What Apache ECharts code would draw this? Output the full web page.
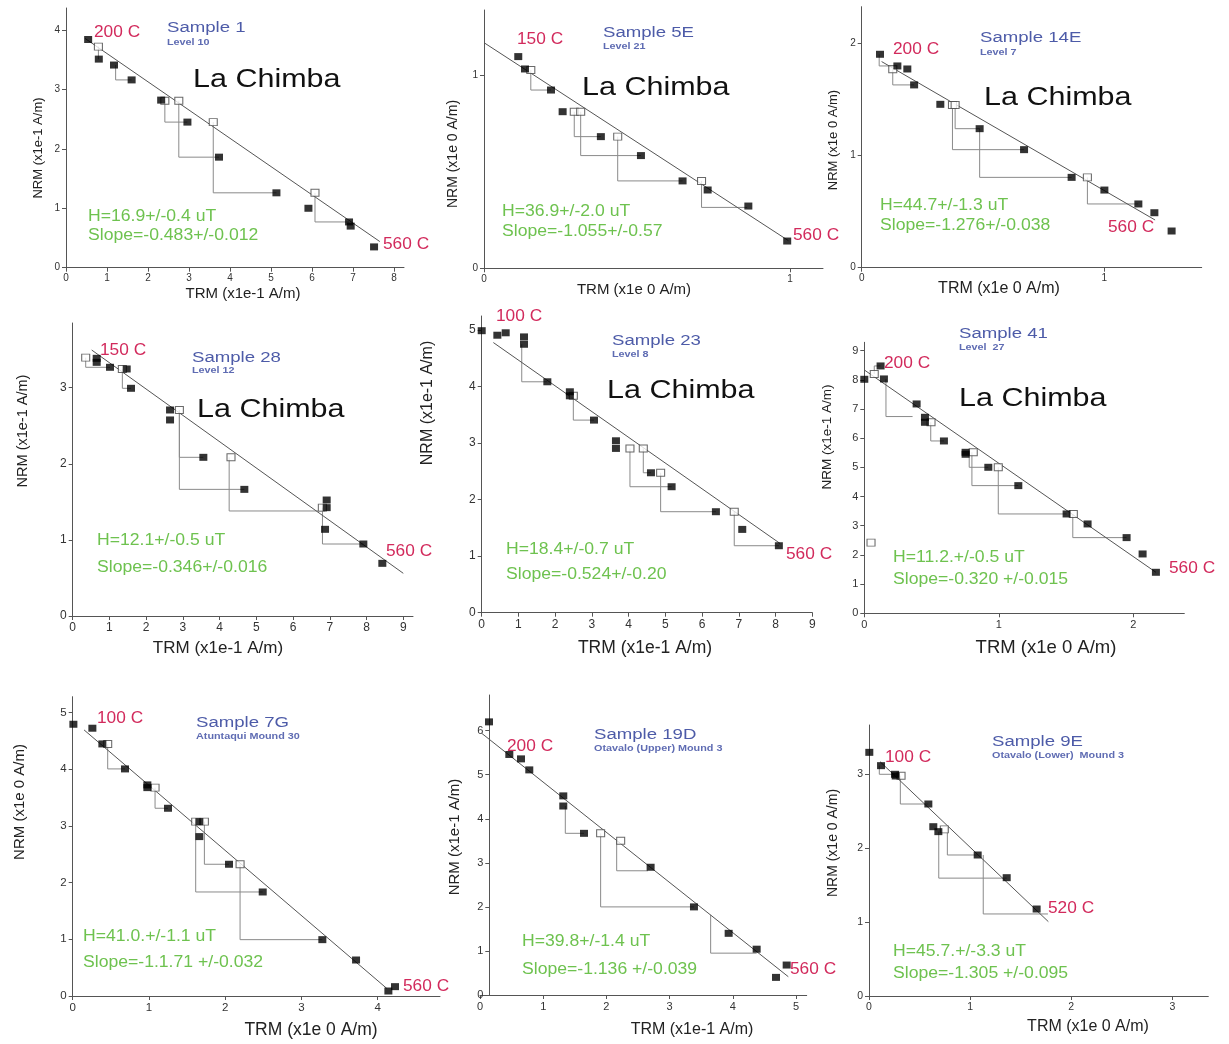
<!DOCTYPE html>
<html><head><meta charset="utf-8">
<script src="https://cdn.jsdelivr.net/npm/echarts@6/dist/echarts.min.js"></script>
<style>html,body{margin:0;padding:0;background:#fff}#c{width:1229px;height:1044px}</style>
</head><body><div id="c"></div>
<script>
// ---------- DATA ----------
// Sample 1
const s1_trm = [0.54,0.80,1.17,1.60,2.32,2.96,3.73,5.13,5.91,6.90,6.94,7.51];
const s1_nrm = [3.84,3.51,3.41,3.16,2.82,2.45,1.86,1.26,1.00,0.77,0.70,0.35];
const s1_chkTrm = [0.79,2.41,2.75,3.59,6.07];
const s1_chkNrm = [3.72,2.81,2.81,2.45,1.26];
const s1_steps = [[0.79,3.72,3.51,0.80],[1.21,3.41,3.16,1.60],[2.41,2.81,2.45,2.96],[2.75,2.81,1.86,3.73],[3.59,2.45,1.26,5.13],[6.07,1.26,0.77,6.90]];
const s1_fitTrm = [0.46,7.65], s1_fitNrm = [3.86,0.44];
const s1_text = ['200 C','560 C','Sample 1','Level 10','La Chimba','H=16.9+/-0.4 uT','Slope=-0.483+/-0.012'];
const s1_axes = ['TRM (x1e-1 A/m)','NRM (x1e-1 A/m)'];
const s1_xTicks = [0,1,2,3,4,5,6,7,8], s1_yTicks = [0,1,2,3,4], s1_range = [8.24,4.37];
// Sample 5E
const s2_trm = [0.112,0.134,0.219,0.257,0.382,0.513,0.649,0.731,0.864,0.991];
const s2_nrm = [1.095,1.031,0.922,0.810,0.681,0.583,0.452,0.405,0.322,0.141];
const s2_chkTrm = [0.153,0.295,0.316,0.437,0.711];
const s2_chkNrm = [1.026,0.810,0.810,0.681,0.452];
const s2_steps = [[0.153,1.026,0.922,0.219],[0.295,0.810,0.681,0.382],[0.316,0.810,0.583,0.513],[0.437,0.681,0.452,0.649],[0.711,0.452,0.315,0.86]];
const s2_fitTrm = [0,0.995], s2_fitNrm = [1.167,0.143];
const s2_text = ['150 C','560 C','Sample 5E','Level 21','La Chimba','H=36.9+/-2.0 uT','Slope=-1.055+/-0.57'];
const s2_axes = ['TRM (x1e 0 A/m)','NRM (x1e 0 A/m)'];
const s2_xTicks = [0,1], s2_yTicks = [0,1], s2_range = [1.108,1.336];
// Sample 14E
const s3_trm = [0.0755,0.147,0.188,0.216,0.324,0.486,0.669,0.865,1.0,1.14,1.206,1.277];
const s3_nrm = [1.902,1.798,1.771,1.629,1.456,1.239,1.052,0.805,0.692,0.568,0.490,0.327];
const s3_chkTrm = [0.128,0.374,0.385,0.930];
const s3_chkNrm = [1.768,1.450,1.450,0.805];
const s3_steps = [[0.072,1.902,1.798,0.147],[0.128,1.768,1.629,0.216],[0.374,1.45,1.052,0.669],[0.385,1.45,1.239,0.486],[0.486,1.239,0.805,0.865],[0.930,0.805,0.568,1.14]];
const s3_fitTrm = [0.082,1.209], s3_fitNrm = [1.837,0.425];
const s3_text = ['200 C','560 C','Sample 14E','Level 7','La Chimba','H=44.7+/-1.3 uT','Slope=-1.276+/-0.038'];
const s3_axes = ['TRM (x1e 0 A/m)','NRM (x1e 0 A/m)'];
const s3_xTicks = [0,1], s3_yTicks = [0,1,2], s3_range = [1.401,2.326];
// Sample 28
const s4_trm = [0.653,0.653,1.016,1.47,1.588,2.65,2.65,3.557,4.673,6.915,6.915,6.87,7.913,8.43];
const s4_nrm = [3.386,3.333,3.268,3.246,2.992,2.707,2.576,2.085,1.664,1.524,1.424,1.139,0.946,0.692];
const s4_chkTrm = [0.354,1.352,2.904,4.31,6.797];
const s4_chkNrm = [3.395,3.246,2.707,2.085,1.424];
const s4_steps = [[0.354,3.395,3.268,1.016],[1.352,3.246,2.992,1.588],[2.904,2.707,2.085,3.557],[2.904,2.707,1.664,4.673],[4.26,2.085,1.38,6.87],[6.80,1.424,0.946,7.913]];
const s4_fitTrm = [0.517,9.0], s4_fitNrm = [3.495,0.561];
const s4_text = ['150 C','560 C','Sample 28','Level 12','La Chimba','H=12.1+/-0.5 uT','Slope=-0.346+/-0.016'];
const s4_axes = ['TRM (x1e-1 A/m)','NRM (x1e-1 A/m)'];
const s4_xTicks = [0,1,2,3,4,5,6,7,8,9], s4_yTicks = [0,1,2,3], s4_range = [9.265,3.85];
// Sample 23
const s5_trm = [0,0.426,0.653,1.152,1.152,1.787,2.40,2.40,3.057,3.655,3.655,4.608,5.17,6.376,7.093,8.09];
const s5_nrm = [4.99,4.91,4.953,4.88,4.75,4.086,3.909,3.838,3.408,3.042,2.907,2.476,2.229,1.787,1.474,1.185];
const s5_chkTrm = [2.494,4.036,4.399,4.871,6.875];
const s5_chkNrm = [3.838,2.907,2.907,2.476,1.787];
const s5_steps = [[1.09,4.75,4.086,1.787],[2.494,3.838,3.408,3.057],[4.036,2.907,2.229,5.17],[4.399,2.907,2.476,4.608],[4.871,2.476,1.787,6.376],[6.875,1.787,1.185,8.09]];
const s5_fitTrm = [0.317,8.12], s5_fitNrm = [4.78,1.226];
const s5_text = ['100 C','560 C','Sample 23','Level 8','La Chimba','H=18.4+/-0.7 uT','Slope=-0.524+/-0.20'];
const s5_axes = ['TRM (x1e-1 A/m)','NRM (x1e-1 A/m)'];
const s5_xTicks = [0,1,2,3,4,5,6,7,8,9], s5_yTicks = [0,1,2,3,4,5], s5_range = [9.0,5.25];
// Sample 41
const s6_trm = [0,0.121,0.146,0.389,0.451,0.451,0.592,0.753,0.753,0.922,1.145,1.504,1.660,1.950,2.069,2.168];
const s6_nrm = [8.017,8.474,8.029,7.172,6.715,6.544,5.904,5.516,5.448,5.002,4.374,3.403,3.061,2.593,2.033,1.405];
const s6_chkTrm = [0.074,0.496,0.81,0.996,1.554,0.05];
const s6_chkNrm = [8.2,6.544,5.516,5.002,3.403,2.421];
const s6_steps = [[0.074,8.2,8.474,0.121],[0.161,8.03,6.74,0.359],[0.494,6.544,5.904,0.592],[0.78,5.516,5.002,0.922],[0.80,5.516,4.374,1.145],[0.996,5.002,3.403,1.504],[1.55,3.403,2.593,1.95]];
const s6_fitTrm = [0,2.168], s6_fitNrm = [8.337,1.405];
const s6_text = ['200 C','560 C','Sample 41','Level  27','La Chimba','H=11.2.+/-0.5 uT','Slope=-0.320 +/-0.015'];
const s6_axes = ['TRM (x1e 0 A/m)','NRM (x1e-1 A/m)'];
const s6_xTicks = [0,1,2], s6_yTicks = [0,1,2,3,4,5,6,7,8,9], s6_range = [2.379,9.284];
// Sample 7G
const s7_trm = [0.009,0.258,0.389,0.686,0.979,0.979,1.25,1.661,1.661,2.05,2.492,3.274,3.716,4.14,4.227];
const s7_nrm = [4.794,4.724,4.447,4.006,3.724,3.676,3.312,3.076,2.812,2.324,1.835,0.994,0.635,0.088,0.165];
const s7_chkTrm = [0.459,1.08,1.613,1.727,2.195];
const s7_chkNrm = [4.447,3.676,3.076,3.076,2.324];
const s7_steps = [[0.459,4.447,4.006,0.686],[1.08,3.676,3.312,1.25],[1.613,3.076,1.835,2.492],[1.727,3.076,2.324,2.05],[2.195,2.324,0.994,3.274]];
const s7_fitTrm = [0.149,4.118], s7_fitNrm = [4.694,0.135];
const s7_text = ['100 C','560 C','Sample 7G','Atuntaqui Mound 30','','H=41.0.+/-1.1 uT','Slope=-1.1.71 +/-0.032'];
const s7_axes = ['TRM (x1e 0 A/m)','NRM (x1e 0 A/m)'];
const s7_xTicks = [0,1,2,3,4], s7_yTicks = [0,1,2,3,4,5], s7_range = [4.817,5.28];
// Sample 19D
const s8_trm = [0.142,0.464,0.649,0.78,1.318,1.318,1.646,2.70,3.386,3.935,4.378,4.684,4.853];
const s8_nrm = [6.20,5.46,5.36,5.11,4.52,4.29,3.67,2.90,2.00,1.40,1.04,0.40,0.68];
const s8_chkTrm = [1.909,2.226];
const s8_chkNrm = [3.67,3.50];
const s8_steps = [[1.35,4.29,3.67,1.646],[1.909,3.67,2.00,3.386],[2.163,3.50,2.82,2.66],[3.65,1.82,0.95,4.378]];
const s8_fitTrm = [0.027,4.879], s8_fitNrm = [5.94,0.415];
const s8_text = ['200 C','560 C','Sample 19D','Otavalo (Upper) Mound 3','','H=39.8+/-1.4 uT','Slope=-1.136 +/-0.039'];
const s8_axes = ['TRM (x1e-1 A/m)','NRM (x1e-1 A/m)'];
const s8_xTicks = [0,1,2,3,4,5], s8_yTicks = [0,1,2,3,4,5,6], s8_range = [5.17,6.81];
// Sample 9E
const s9_trm = [0.003,0.119,0.257,0.264,0.587,0.636,0.686,1.075,1.362,1.658];
const s9_nrm = [3.297,3.117,3.0,2.977,2.598,2.291,2.224,1.908,1.601,1.177];
const s9_chkTrm = [0.317,0.745];
const s9_chkNrm = [2.981,2.255];
const s9_steps = [[0.102,3.117,3.0,0.257],[0.310,2.981,2.598,0.587],[0.69,2.224,1.595,1.362],[0.775,2.29,1.908,1.075],[1.13,1.908,1.11,1.77]];
const s9_fitTrm = [0.109,1.774], s9_fitNrm = [3.171,1.006];
const s9_text = ['100 C','520 C','Sample 9E','Otavalo (Lower)  Mound 3','','H=45.7.+/-3.3 uT','Slope=-1.305 +/-0.095'];
const s9_axes = ['TRM (x1e 0 A/m)','NRM (x1e 0 A/m)'];
const s9_xTicks = [0,1,2,3], s9_yTicks = [0,1,2,3], s9_range = [3.356,3.667];

const panels = [
  [s1_trm,s1_nrm,s1_chkTrm,s1_chkNrm,s1_steps,s1_fitTrm,s1_fitNrm,s1_text,s1_axes,s1_xTicks,s1_yTicks,s1_range],
  [s2_trm,s2_nrm,s2_chkTrm,s2_chkNrm,s2_steps,s2_fitTrm,s2_fitNrm,s2_text,s2_axes,s2_xTicks,s2_yTicks,s2_range],
  [s3_trm,s3_nrm,s3_chkTrm,s3_chkNrm,s3_steps,s3_fitTrm,s3_fitNrm,s3_text,s3_axes,s3_xTicks,s3_yTicks,s3_range],
  [s4_trm,s4_nrm,s4_chkTrm,s4_chkNrm,s4_steps,s4_fitTrm,s4_fitNrm,s4_text,s4_axes,s4_xTicks,s4_yTicks,s4_range],
  [s5_trm,s5_nrm,s5_chkTrm,s5_chkNrm,s5_steps,s5_fitTrm,s5_fitNrm,s5_text,s5_axes,s5_xTicks,s5_yTicks,s5_range],
  [s6_trm,s6_nrm,s6_chkTrm,s6_chkNrm,s6_steps,s6_fitTrm,s6_fitNrm,s6_text,s6_axes,s6_xTicks,s6_yTicks,s6_range],
  [s7_trm,s7_nrm,s7_chkTrm,s7_chkNrm,s7_steps,s7_fitTrm,s7_fitNrm,s7_text,s7_axes,s7_xTicks,s7_yTicks,s7_range],
  [s8_trm,s8_nrm,s8_chkTrm,s8_chkNrm,s8_steps,s8_fitTrm,s8_fitNrm,s8_text,s8_axes,s8_xTicks,s8_yTicks,s8_range],
  [s9_trm,s9_nrm,s9_chkTrm,s9_chkNrm,s9_steps,s9_fitTrm,s9_fitNrm,s9_text,s9_axes,s9_xTicks,s9_yTicks,s9_range]
];

// ---------- LAYOUT (pixel positions & sizes) ----------
const layout = [
 {l:66, t:8, r:404, b:267.7, yOff:0, tf:10, tt:[15,13], tp:[243,294], np:[38,148], pos:[[94,33],[383,245],[167,28],[167,43],[193,80],[88,217],[88,236]]},
 {l:484, t:10, r:823, b:268.3, yOff:0, tf:10, tt:[15,14], tp:[634,290], np:[453,154], pos:[[517,40],[793,236],[603,33],[603,47],[582,88],[502,212],[502,232]]},
 {l:861.7, t:6.7, r:1201.7, b:267.7, yOff:0, tf:10, tt:[16,13], tp:[999,289], np:[833,140], pos:[[893,50],[1108,228],[980,38],[980,53],[984,98],[880,206],[880,226]]},
 {l:72.7, t:323, r:413, b:616, yOff:0, tf:12, tt:[17,14.5], tp:[218,648], np:[23,431], pos:[[100,351],[386,552],[192,358],[192,371],[197,410],[97,541],[97,568]]},
 {l:481.7, t:316, r:812.3, b:612.7, yOff:0, tf:12, tt:[17.5,16], tp:[645,648], np:[428,403], pos:[[496,317],[786,555],[612,341],[612,355],[607,391],[506,550],[506,575]]},
 {l:864.3, t:342.3, r:1184.3, b:613.3, yOff:0, tf:11, tt:[18.5,13.5], tp:[1046,648], np:[827,437], pos:[[884,364],[1169,569],[959,334],[959,348],[959,399],[893,558],[893,580]]},
 {l:72.7, t:696.7, r:440, b:996, yOff:0, tf:11.5, tt:[17.5,15], tp:[311,1030], np:[20,802], pos:[[97,719],[403,987],[196,723],[196,737],null,[83,937],[83,963]]},
 {l:480, t:695, r:806.7, b:995, yOff:-9.3, tf:11, tt:[16,15], tp:[692,1030], np:[455,837], pos:[[507,747],[790,970],[594,735],[594,749],null,[522,942],[522,970]]},
 {l:869, t:725, r:1208.3, b:996, yOff:0, tf:10.5, tt:[16,14], tp:[1088,1027], np:[833,843], pos:[[885,758],[1048,909],[992,742],[992,756],null,[893,952],[893,974]]}
];

const FONT = '"Liberation Sans", Arial, Helvetica, sans-serif';
const AX = '#555';
const textStyles = [
  {size:16, w:'normal', sx:1.08, c:'#d22a5c'},
  {size:16, w:'normal', sx:1.08, c:'#d22a5c'},
  {size:15.5, w:'normal', sx:1.2, c:'#4d5ba8'},
  {size:9, w:'bold', sx:1.2, c:'#5f6cb3'},
  {size:25, w:'normal', sx:1.22, c:'#111'},
  {size:16, w:'normal', sx:1.1, c:'#6ec24f'},
  {size:16, w:'normal', sx:1.1, c:'#6ec24f'}
];

const zip = (a, b) => a.map((v, i) => [v, b[i]]);
const grid = [], xAxis = [], yAxis = [], series = [], graphic = [];

panels.forEach((p, i) => {
  const [trm, nrm, cT, cN, steps, fT, fN, text, axes, xT, yT, range] = p;
  const L = layout[i];
  grid.push({left: L.l, top: L.t, width: L.r - L.l, height: L.b - L.t, containLabel: false});
  const common = {
    type: 'value', gridIndex: i, min: 0,
    axisLine: {show: true, onZero: false, lineStyle: {color: AX, width: 1}},
    splitLine: {show: false}
  };
  xAxis.push(Object.assign({}, common, {
    max: range[0],
    axisTick: {show: true, length: 4, customValues: xT, lineStyle: {color: AX}},
    axisLabel: {customValues: xT, fontSize: L.tf, color: '#333', margin: 6, fontFamily: FONT}
  }));
  yAxis.push(Object.assign({}, common, {
    max: range[1], offset: L.yOff,
    axisTick: {show: true, length: 4, customValues: yT, lineStyle: {color: AX}},
    axisLabel: {customValues: yT, fontSize: L.tf, color: '#333', margin: 6, fontFamily: FONT}
  }));
  // pTRM check connectors
  series.push({
    type: 'lines', coordinateSystem: 'cartesian2d', xAxisIndex: i, yAxisIndex: i,
    polyline: true, silent: true, z: 1,
    lineStyle: {color: '#8a8a8a', width: 1, opacity: 1},
    data: steps.map(s => ({coords: [[s[0], s[1]], [s[0], s[2]], [s[3], s[2]]]}))
  });
  // best-fit line
  series.push({
    type: 'line', xAxisIndex: i, yAxisIndex: i, z: 2, silent: true,
    showSymbol: false, symbol: 'none',
    lineStyle: {color: '#555', width: 1},
    data: zip(fT, fN)
  });
  // pTRM checks (open squares)
  series.push({
    type: 'scatter', xAxisIndex: i, yAxisIndex: i, z: 3, silent: true,
    symbol: 'rect', symbolSize: [8, 7],
    itemStyle: {color: '#fff', borderColor: '#444', borderWidth: 1},
    data: zip(cT, cN)
  });
  // NRM/TRM points (filled squares)
  series.push({
    type: 'scatter', xAxisIndex: i, yAxisIndex: i, z: 4, silent: true,
    symbol: 'rect', symbolSize: [8, 7],
    itemStyle: {color: '#000'},
    data: zip(trm, nrm)
  });
  // annotation texts
  text.forEach((t, k) => {
    if (!t || !L.pos[k]) return;
    const st = textStyles[k];
    graphic.push({
      type: 'text', x: L.pos[k][0], y: L.pos[k][1], scaleX: st.sx, z: 10, silent: true,
      style: {text: t, fill: st.c, font: st.w + ' ' + st.size + 'px ' + FONT, textAlign: 'left', textVerticalAlign: 'middle'}
    });
  });
  // axis titles
  graphic.push({
    type: 'text', x: L.tp[0], y: L.tp[1], z: 10, silent: true,
    style: {text: axes[0], fill: '#222', font: L.tt[0] + 'px ' + FONT, textAlign: 'center', textVerticalAlign: 'middle'}
  });
  graphic.push({
    type: 'text', x: L.np[0], y: L.np[1], rotation: Math.PI / 2, z: 10, silent: true,
    style: {text: axes[1], fill: '#222', font: L.tt[1] + 'px ' + FONT, textAlign: 'center', textVerticalAlign: 'middle'}
  });
});

const chart = echarts.init(document.getElementById('c'), null, {renderer: 'canvas'});
chart.setOption({
  animation: false,
  backgroundColor: '#fff',
  grid, xAxis, yAxis, series, graphic
});
</script>
</body></html>
